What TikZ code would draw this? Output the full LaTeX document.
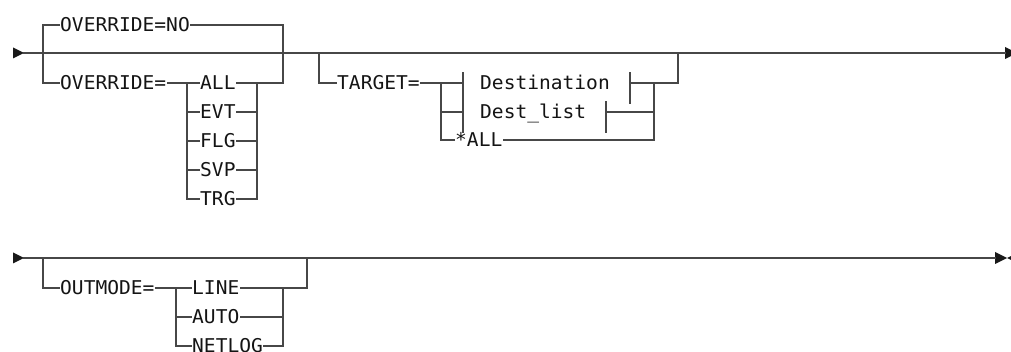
\documentclass[tikz,border=0pt]{standalone}
\usepackage{fontspec}
\newfontfamily\railfont[FakeStretch=1.03]{DejaVu Sans Mono}
\begin{document}
\begin{tikzpicture}[x=1pt,y=-1pt,
  rail/.style={draw=black!72, line width=1.3pt, line cap=rect},
  kw/.style={anchor=west, inner xsep=1pt, inner ysep=0pt, text height=13.8pt, text depth=0pt,
    font=\railfont\fontsize{19}{21}\selectfont, text=black!92},
  tip/.style={fill=black!90}]
\useasboundingbox (0,0) rectangle (1011,352);

% ---------- line 1 ----------
\coordinate (s1) at (24,53);
\coordinate (j1) at (43,53);
\coordinate (j2) at (283,53);
\coordinate (j3) at (319,53);
\coordinate (j4) at (678,53);
\coordinate (e1) at (1005,53);
\fill[tip] (13,47.5) -- (s1) -- (13,58.5) -- cycle;
\fill[tip] (e1) -- ++(0,-6) -- ++(12,6) -- ++(-12,6) -- cycle;
\draw[rail] (s1) -- (e1);

% OVERRIDE group
\node[kw] (ovno) at (59,25) {OVERRIDE=NO};
\node[kw] (oveq) at (59,83) {OVERRIDE=};
\draw[rail] (j1) |- (ovno.west);
\draw[rail] (ovno.east) -| (j2);
\draw[rail] (j1) |- (oveq.west);
\coordinate (c1) at (187,83);
\coordinate (c2) at (187,112);
\coordinate (c3) at (187,141);
\coordinate (c4) at (187,170);
\coordinate (c5) at (187,199);
\coordinate (d1) at (257,83);
\coordinate (d2) at (257,112);
\coordinate (d3) at (257,141);
\coordinate (d4) at (257,170);
\coordinate (d5) at (257,199);
\node[kw] (o1) at (199,83) {ALL};
\node[kw] (o2) at (199,112) {EVT};
\node[kw] (o3) at (199,141) {FLG};
\node[kw] (o4) at (199,170) {SVP};
\node[kw] (o5) at (199,199) {TRG};
\draw[rail] (oveq.east) -- (c1);
\draw[rail] (c1) -- (c5);
\draw[rail] (d1) -- (d5);
\draw[rail] (c1) -- (o1.west);
\draw[rail] (c2) -- (o2.west);
\draw[rail] (c3) -- (o3.west);
\draw[rail] (c4) -- (o4.west);
\draw[rail] (c5) -- (o5.west);
\draw[rail] (o1.east) -| (j2);
\draw[rail] (o2.east) -- (d2);
\draw[rail] (o3.east) -- (d3);
\draw[rail] (o4.east) -- (d4);
\draw[rail] (o5.east) -- (d5);

% TARGET group
\node[kw] (tg) at (336,83) {TARGET=};
\draw[rail] (j3) |- (tg.west);
\coordinate (f1) at (441,83);
\coordinate (f2) at (441,112);
\coordinate (f3) at (441,140);
\coordinate (h1) at (654,83);
\coordinate (h2) at (654,112);
\coordinate (h3) at (654,140);
\draw[rail] (tg.east) -- (f1);
\draw[rail] (f1) -- (f3);
\draw[rail] (h1) -- (h3);
% Destination
\coordinate (g1) at (463,83);
\coordinate (g1t) at (463,73);
\coordinate (g1b) at (463,103);
\coordinate (k1) at (630,83);
\coordinate (k1t) at (630,73);
\coordinate (k1b) at (630,103);
\node[kw] (dst) at (479,83) {Destination};
\draw[rail] (f1) -- (g1);
\draw[rail] (g1t) -- (g1b);
\draw[rail] (k1t) -- (k1b);
\draw[rail] (k1) -| (j4);
% Dest_list
\coordinate (g2) at (463,112);
\coordinate (g2t) at (463,102);
\coordinate (g2b) at (463,132);
\coordinate (k2) at (606,112);
\coordinate (k2t) at (606,102);
\coordinate (k2b) at (606,132);
\node[kw] (dsl) at (479,112) {Dest\_list};
\draw[rail] (f2) -- (g2);
\draw[rail] (g2t) -- (g2b);
\draw[rail] (k2t) -- (k2b);
\draw[rail] (k2) -- (h2);
% *ALL
\node[kw] (tall) at (454,140) {*ALL};
\draw[rail] (f3) -- (tall.west);
\draw[rail] (tall.east) -- (h3);

% ---------- line 2 ----------
\coordinate (s2) at (24,258);
\coordinate (m1) at (43,258);
\coordinate (m2) at (307,258);
\coordinate (e2) at (995,258);
\fill[tip] (13,252.5) -- (s2) -- (13,263.5) -- cycle;
\fill[tip] (e2) -- ++(0,-6) -- ++(12,6) -- ++(-12,6) -- cycle;
\fill[tip] (1007,258) -- ++(10,-5) -- ++(0,10) -- cycle;
\draw[rail] (s2) -- (e2);

\node[kw] (om) at (59,288) {OUTMODE=};
\draw[rail] (m1) |- (om.west);
\coordinate (p1) at (176,288);
\coordinate (p2) at (176,317);
\coordinate (p3) at (176,346);
\coordinate (q1) at (283,288);
\coordinate (q2) at (283,317);
\coordinate (q3) at (283,346);
\node[kw] (l1) at (191,288) {LINE};
\node[kw] (l2) at (191,317) {AUTO};
\node[kw] (l3) at (191,346) {NETLOG};
\draw[rail] (om.east) -- (p1);
\draw[rail] (p1) -- (p3);
\draw[rail] (q1) -- (q3);
\draw[rail] (p1) -- (l1.west);
\draw[rail] (p2) -- (l2.west);
\draw[rail] (p3) -- (l3.west);
\draw[rail] (l1.east) -| (m2);
\draw[rail] (l2.east) -- (q2);
\draw[rail] (l3.east) -- (q3);
\end{tikzpicture}
\end{document}
